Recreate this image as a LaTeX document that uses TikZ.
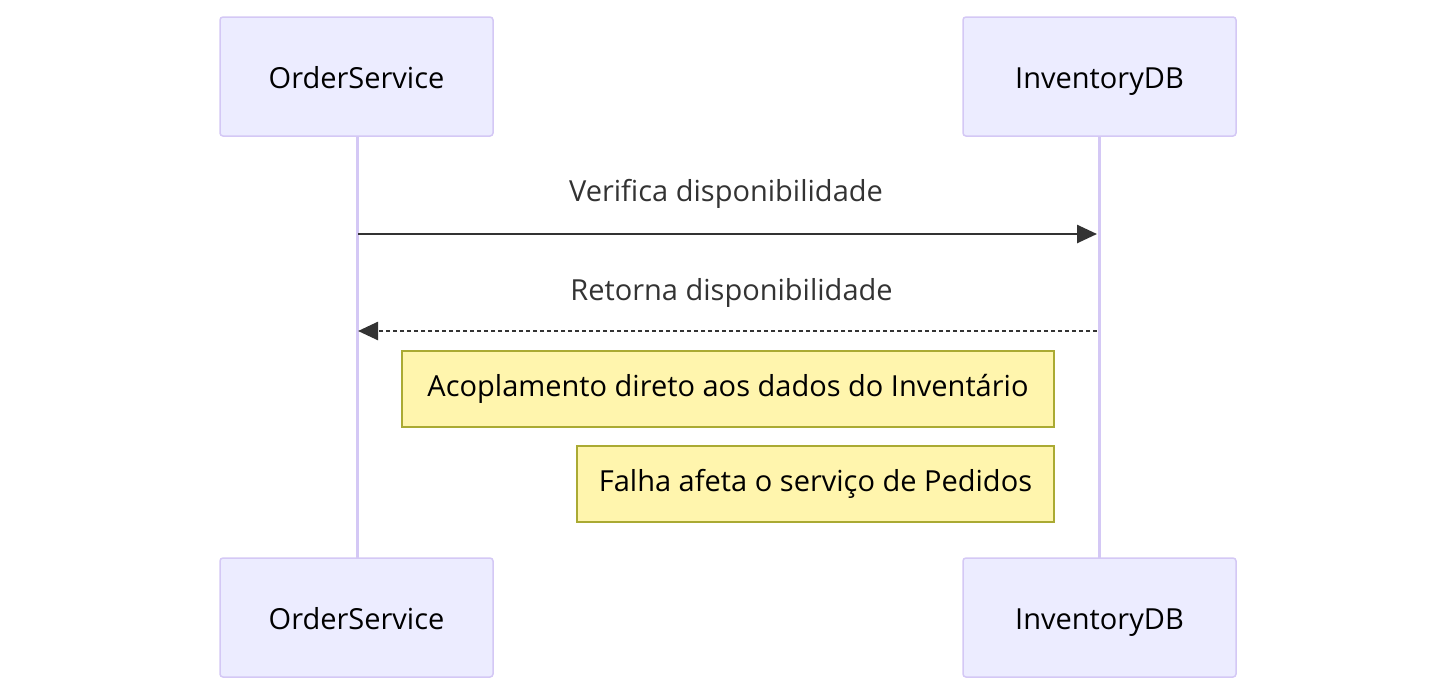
\documentclass[tikz,border=0pt]{standalone}
\usepackage{fontspec}
\setmainfont{Open Sans}
\usetikzlibrary{arrows.meta}
\definecolor{actorfill}{HTML}{ECECFF}
\definecolor{actorline}{HTML}{D4C8F5}
\definecolor{notefill}{HTML}{FFF5AD}
\definecolor{noteline}{HTML}{AAAA33}
\definecolor{msgcol}{HTML}{333333}
\begin{document}
\begin{tikzpicture}[x=1pt,y=-1pt,
    actor/.style={draw=actorline,fill=actorfill,line width=1.5pt,rounded corners=3pt,
        minimum width=273pt,minimum height=119pt,text height=29pt,text depth=6pt,
        font=\fontsize{29}{34}\selectfont},
    note/.style={draw=noteline,fill=notefill,line width=1.5pt,
        minimum height=76pt,text height=22pt,text depth=8pt,font=\fontsize{29}{34}\selectfont},
    lifeline/.style={draw=actorline,line width=3pt},
    msg/.style={draw=msgcol,line width=2.6pt,-{Triangle[length=20pt,width=18pt]}},
    msglabel/.style={text=msgcol,anchor=base,font=\fontsize{29}{34}\selectfont}]
    \useasboundingbox (0,0) rectangle (1456,697);
    % lifelines first, boxes on top
    \draw[lifeline] (357,136) -- (357,558);
    \draw[lifeline] (1099,136) -- (1099,558);
    \node[actor] (os-top) at (356.5,76.5) {OrderService};
    \node[actor] (db-top) at (1099.5,76.5) {InventoryDB};
    \node[actor] (os-bot) at (356.5,617.5) {OrderService};
    \node[actor] (db-bot) at (1099.5,617.5) {InventoryDB};
    % messages
    \coordinate (m1a) at (358,234);
    \coordinate (m1b) at (1097,234);
    \coordinate (m2a) at (1097,331);
    \coordinate (m2b) at (358,331);
    \draw[msg] (m1a) -- (m1b);
    \node[msglabel] (l1) at (726,201) {Verifica disponibilidade};
    \draw[msg,dash pattern=on 4pt off 3pt] (m2a) -- (m2b);
    \node[msglabel] (l2) at (731.5,300) {Retorna disponibilidade};
    % notes
    \node[note,minimum width=652pt] (n1) at (728,389) {Acoplamento direto aos dados do Inventário};
    \node[note,minimum width=477pt] (n2) at (815.5,484) {Falha afeta o serviço de Pedidos};
\end{tikzpicture}
\end{document}
